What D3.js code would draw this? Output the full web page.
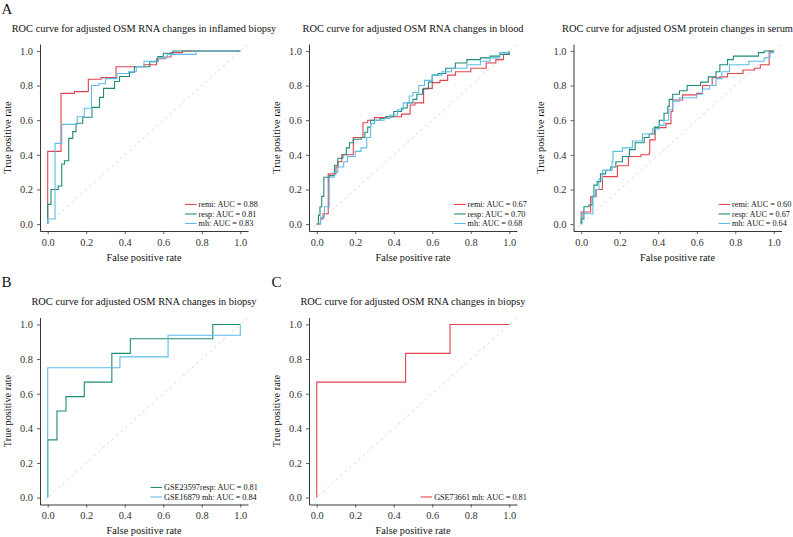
<!DOCTYPE html>
<html><head><meta charset="utf-8">
<script src="https://cdn.jsdelivr.net/npm/d3@7/dist/d3.min.js"></script>
<style>body{margin:0;background:#fff}svg{display:block}text{font-family:"Liberation Serif","Times New Roman",serif}</style>
</head><body>
<script>
// ---------- data ----------
const tickValues = [0, 0.2, 0.4, 0.6, 0.8, 1.0];
const titles = [
  "ROC curve for adjusted OSM RNA changes in inflamed biopsy",
  "ROC curve for adjusted OSM RNA changes in blood",
  "ROC curve for adjusted OSM protein changes in serum",
  "ROC curve for adjusted OSM RNA changes in biopsy",
  "ROC curve for adjusted OSM RNA changes in biopsy"
];
const panelLetters = ["A", "B", "C"];
const xTitle = "False positive rate";
const yTitle = "True positive rate";

// Panel A1 (inflamed biopsy)
const a1RemiFpr = [0, 0, 0.069, 0.139, 0.211, 0.277, 0.355, 0.50, 0.565, 0.61, 0.64, 0.70, 1];
const a1RemiTpr = [0, 0.42, 0.755, 0.765, 0.836, 0.846, 0.909, 0.92, 0.955, 0.965, 0.99, 1.0, 1];
const a1RespFpr = [0, 0, 0.017, 0.055, 0.073, 0.087, 0.109, 0.13, 0.147, 0.182, 0.23, 0.23, 0.269, 0.29, 0.347, 0.373, 0.425, 0.45, 0.53, 0.572, 0.6, 0.65, 1];
const a1RespTpr = [0, 0.114, 0.2, 0.22, 0.347, 0.366, 0.495, 0.534, 0.582, 0.617, 0.643, 0.674, 0.732, 0.784, 0.823, 0.852, 0.877, 0.909, 0.938, 0.967, 0.987, 1.0, 1];
const a1MhFpr = [0, 0, 0.038, 0.073, 0.153, 0.19, 0.227, 0.265, 0.30, 0.36, 0.42, 0.46, 0.50, 0.575, 0.62, 0.77, 1];
const a1MhTpr = [0, 0.029, 0.466, 0.576, 0.62, 0.669, 0.80, 0.81, 0.84, 0.87, 0.88, 0.91, 0.94, 0.96, 0.98, 1.0, 1];

// Panel A2 (blood)
const a2RemiFpr = [0, 0.02, 0.033, 0.06, 0.10, 0.11, 0.13, 0.19, 0.24, 0.265, 0.30, 0.36, 0.44, 0.485, 0.51, 0.555, 0.60, 0.64, 0.68, 0.72, 0.80, 0.88, 0.93, 0.97, 1.0];
const a2RemiTpr = [0, 0.03, 0.06, 0.29, 0.33, 0.36, 0.40, 0.50, 0.585, 0.60, 0.615, 0.62, 0.635, 0.688, 0.70, 0.784, 0.817, 0.83, 0.86, 0.88, 0.90, 0.93, 0.95, 0.98, 1.0];
const a2RespFpr = [0, 0.009, 0.017, 0.026, 0.037, 0.066, 0.092, 0.11, 0.136, 0.154, 0.17, 0.19, 0.232, 0.25, 0.265, 0.28, 0.33, 0.36, 0.40, 0.44, 0.47, 0.50, 0.52, 0.55, 0.58, 0.60, 0.63, 0.67, 0.72, 0.78, 0.85, 0.90, 0.95, 1.0];
const a2RespTpr = [0, 0.05, 0.10, 0.16, 0.27, 0.28, 0.34, 0.38, 0.40, 0.44, 0.47, 0.49, 0.50, 0.53, 0.56, 0.60, 0.61, 0.62, 0.65, 0.67, 0.70, 0.72, 0.75, 0.78, 0.82, 0.86, 0.87, 0.90, 0.93, 0.95, 0.96, 0.97, 0.98, 1.0];
const a2MhFpr = [0, 0.015, 0.02, 0.04, 0.065, 0.09, 0.11, 0.14, 0.16, 0.20, 0.23, 0.26, 0.28, 0.30, 0.35, 0.38, 0.42, 0.45, 0.48, 0.50, 0.53, 0.56, 0.60, 0.65, 0.70, 0.78, 0.85, 0.90, 0.95, 1.0];
const a2MhTpr = [0, 0, 0.04, 0.10, 0.27, 0.30, 0.33, 0.36, 0.39, 0.42, 0.44, 0.50, 0.58, 0.60, 0.61, 0.63, 0.66, 0.70, 0.74, 0.76, 0.80, 0.83, 0.86, 0.88, 0.90, 0.92, 0.94, 0.96, 0.99, 1.0];

// Panel A3 (serum)
const a3RemiFpr = [0, 0, 0.049, 0.078, 0.11, 0.188, 0.245, 0.31, 0.353, 0.356, 0.384, 0.44, 0.466, 0.475, 0.527, 0.60, 0.63, 0.68, 0.72, 0.76, 0.84, 0.90, 0.93, 0.976, 1.0];
const a3RemiTpr = [0, 0.07, 0.158, 0.20, 0.274, 0.337, 0.39, 0.40, 0.412, 0.486, 0.557, 0.58, 0.65, 0.717, 0.746, 0.755, 0.80, 0.845, 0.85, 0.87, 0.89, 0.90, 0.92, 1.0, 1.0];
const a3RespFpr = [0, 0, 0.014, 0.04, 0.057, 0.066, 0.083, 0.10, 0.127, 0.153, 0.18, 0.214, 0.25, 0.28, 0.327, 0.353, 0.38, 0.405, 0.43, 0.45, 0.457, 0.475, 0.51, 0.55, 0.62, 0.66, 0.70, 0.72, 0.76, 0.79, 0.92, 0.95, 1.0];
const a3RespTpr = [0, 0.03, 0.10, 0.11, 0.16, 0.225, 0.245, 0.29, 0.31, 0.33, 0.36, 0.39, 0.43, 0.47, 0.50, 0.52, 0.56, 0.60, 0.64, 0.68, 0.72, 0.75, 0.77, 0.80, 0.82, 0.85, 0.88, 0.92, 0.95, 0.97, 0.99, 1.0, 1.0];
const a3MhFpr = [0, 0.005, 0.061, 0.075, 0.092, 0.11, 0.16, 0.165, 0.214, 0.266, 0.318, 0.37, 0.405, 0.43, 0.454, 0.475, 0.51, 0.60, 0.63, 0.666, 0.70, 0.73, 0.77, 0.87, 0.95, 0.98, 1.0];
const a3MhTpr = [0, 0.06, 0.16, 0.20, 0.26, 0.31, 0.36, 0.42, 0.44, 0.48, 0.52, 0.55, 0.57, 0.60, 0.66, 0.71, 0.73, 0.75, 0.78, 0.80, 0.84, 0.88, 0.92, 0.94, 0.96, 0.99, 1.0];

// Panel B (biopsy, two datasets)
const bRespFpr = [0, 0, 0.048, 0.095, 0.190, 0.333, 0.429, 0.857, 1.0];
const bRespTpr = [0, 0.333, 0.5, 0.583, 0.667, 0.833, 0.917, 1.0, 1.0];
const bMhFpr = [0, 0, 0.375, 0.625, 1.0];
const bMhTpr = [0, 0.75, 0.8125, 0.9375, 1.0];

// Panel C (biopsy, GSE73661)
const cMhFpr = [0, 0, 0.4615, 0.6923, 1.0];
const cMhTpr = [0, 0.667, 0.833, 1.0, 1.0];

const legendA1 = ["remi: AUC = 0.88", "resp: AUC = 0.81", "mh: AUC = 0.83"];
const legendA2 = ["remi: AUC = 0.67", "resp: AUC = 0.70", "mh: AUC = 0.68"];
const legendA3 = ["remi: AUC = 0.60", "resp: AUC = 0.67", "mh: AUC = 0.64"];
const legendB = ["GSE23597resp: AUC = 0.81", "GSE16879 mh: AUC = 0.84"];
const legendC = ["GSE73661 mh: AUC = 0.81"];

// ---------- styles ----------
const RED = "#E2434F", GREEN = "#1F8C77", BLUE = "#5CBDE8";
const zip = (a, b) => a.map((v, i) => [v, b[i]]);

const panels = [
  { left: 40, top: 44, title: titles[0], series: [
    { pts: zip(a1RemiFpr, a1RemiTpr), color: RED, label: legendA1[0] },
    { pts: zip(a1RespFpr, a1RespTpr), color: GREEN, label: legendA1[1] },
    { pts: zip(a1MhFpr, a1MhTpr), color: BLUE, label: legendA1[2] } ] },
  { left: 309, top: 44, title: titles[1], series: [
    { pts: zip(a2RemiFpr, a2RemiTpr), color: RED, label: legendA2[0] },
    { pts: zip(a2RespFpr, a2RespTpr), color: GREEN, label: legendA2[1] },
    { pts: zip(a2MhFpr, a2MhTpr), color: BLUE, label: legendA2[2] } ] },
  { left: 573.5, top: 44, title: titles[2], series: [
    { pts: zip(a3RemiFpr, a3RemiTpr), color: RED, label: legendA3[0] },
    { pts: zip(a3RespFpr, a3RespTpr), color: GREEN, label: legendA3[1] },
    { pts: zip(a3MhFpr, a3MhTpr), color: BLUE, label: legendA3[2] } ] },
  { left: 40, top: 317.5, title: titles[3], series: [
    { pts: zip(bRespFpr, bRespTpr), color: GREEN, label: legendB[0] },
    { pts: zip(bMhFpr, bMhTpr), color: BLUE, label: legendB[1] } ] },
  { left: 309, top: 317.5, title: titles[4], series: [
    { pts: zip(cMhFpr, cMhTpr), color: RED, label: legendC[0] } ] }
];
const W = 208, H = 187;
const DOM = [-0.04, 1.04];

const svg = d3.select("body").append("svg").attr("width", 793).attr("height", 537);
svg.append("rect").attr("width", 793).attr("height", 537).attr("fill", "#fff");

// panel letters
const letterPos = [[1.5, 13.5], [1.5, 287], [271.5, 287]];
panelLetters.forEach((L, i) => {
  svg.append("text").attr("x", letterPos[i][0]).attr("y", letterPos[i][1])
    .attr("font-size", 15).attr("fill", "#111").text(L);
});

const fmt = d3.format(".1f");

panels.forEach(p => {
  const x = d3.scaleLinear().domain(DOM).range([p.left, p.left + W]);
  const y = d3.scaleLinear().domain(DOM).range([p.top + H, p.top]);
  const g = svg.append("g");

  // title
  g.append("text").attr("x", p.left + W / 2).attr("y", p.top - 12.5)
    .attr("text-anchor", "middle").attr("font-size", 10.4).attr("fill", "#111").text(p.title);

  // diagonal reference
  g.append("line").attr("x1", x(DOM[0])).attr("y1", y(DOM[0])).attr("x2", x(DOM[1])).attr("y2", y(DOM[1]))
    .attr("stroke", "#d0d0d0").attr("stroke-width", 0.8).attr("stroke-dasharray", "3,3");

  // axes
  const ax = g.append("g").attr("transform", `translate(0,${p.top + H})`)
    .call(d3.axisBottom(x).tickValues(tickValues).tickFormat(fmt).tickSize(3).tickSizeOuter(0).tickPadding(4.5));
  const ay = g.append("g").attr("transform", `translate(${p.left},0)`)
    .call(d3.axisLeft(y).tickValues(tickValues).tickFormat(fmt).tickSize(3).tickSizeOuter(0).tickPadding(4));
  [ax, ay].forEach(a => {
    a.select(".domain").attr("stroke", "#222").attr("stroke-width", 0.9);
    a.selectAll(".tick line").attr("stroke", "#333").attr("stroke-width", 0.8);
    a.selectAll(".tick text").attr("font-size", 10.4).attr("fill", "#333");
  });

  // axis titles
  g.append("text").attr("x", p.left + W / 2).attr("y", p.top + H + 29.5)
    .attr("text-anchor", "middle").attr("font-size", 10.3).attr("fill", "#111").text(xTitle);
  g.append("text").attr("transform", `translate(${p.left - 29.5},${p.top + H / 2}) rotate(-90)`)
    .attr("text-anchor", "middle").attr("font-size", 10.3).attr("fill", "#111").text(yTitle);

  // curves
  const line = d3.line().x(d => x(d[0])).y(d => y(d[1])).curve(d3.curveStepAfter);
  p.series.forEach(s => {
    g.append("path").attr("d", line(s.pts)).attr("fill", "none")
      .attr("stroke", s.color).attr("stroke-width", 1.1).attr("stroke-linejoin", "miter");
  });

  // legend (bottom-right)
  const lg = g.append("g");
  const texts = p.series.map(s => lg.append("text").attr("font-size", 8.2).attr("fill", "#111").text(s.label));
  const maxW = d3.max(texts, t => t.node().getComputedTextLength());
  const right = x(1) + 17.5;
  const tx = right - maxW;
  const n = p.series.length;
  p.series.forEach((s, i) => {
    const cy = y(0) - 0.6 - (n - 1 - i) * 9.5;
    texts[i].attr("x", tx).attr("y", cy + 2.8);
    lg.append("line").attr("x1", tx - 13.5).attr("x2", tx - 2).attr("y1", cy).attr("y2", cy)
      .attr("stroke", s.color).attr("stroke-width", 1.1);
  });
});
</script>
</body></html>
